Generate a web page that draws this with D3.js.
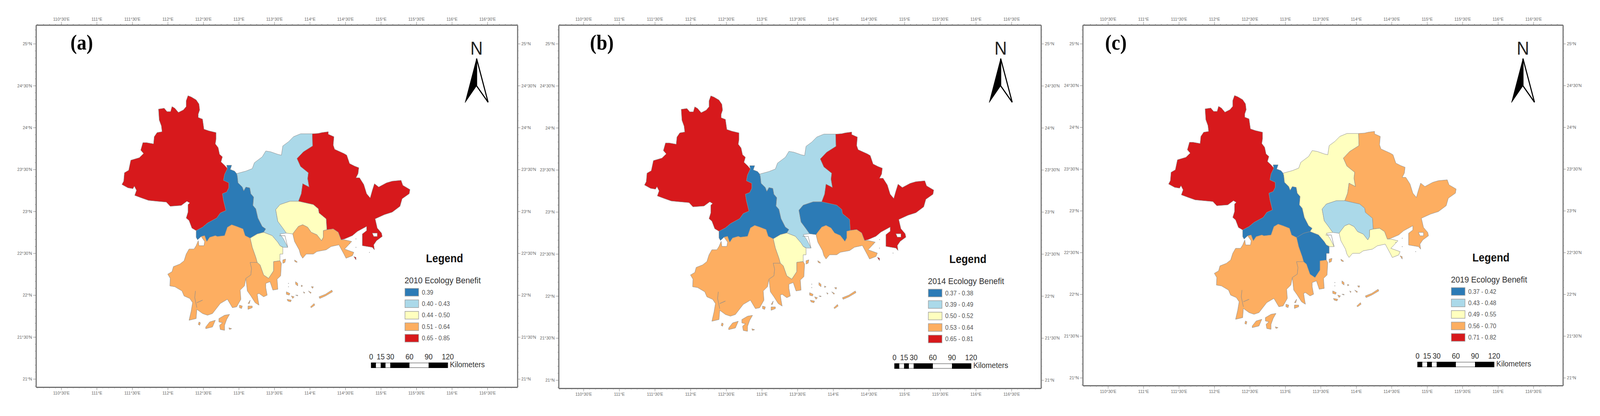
<!DOCTYPE html>
<html>

<head>
  <meta charset="utf-8">
  <title>Ecology Benefit</title>
  <style>
    html, body { margin: 0; width: 100%; height: 100%; background: #fff; overflow: hidden; }
    svg { display: block; width: 100vw; height: 100vh; }
    text { font-family: "Liberation Sans", Arial, sans-serif; }
    .tick line { stroke: #808080; }
    .domain { stroke: #6e6e6e; stroke-width: 3px; }
    .tick text { font-size: 11.6px; fill: #666; font-family: "Liberation Sans", Arial, sans-serif; }
    .city { stroke: #8c8c8c; stroke-width: 1px; fill-rule: evenodd; stroke-linejoin: round; }
  </style>
</head>

<body>
  <svg></svg>
  <script src="https://d3js.org/d3.v7.min.js"></script>
  <script>
    // graticule labels
    const lonTicks = [110.5, 111, 111.5, 112, 112.5, 113, 113.5, 114, 114.5, 115, 115.5, 116, 116.5];
    const latTicks = [25, 24.5, 24, 23.5, 23, 22.5, 22, 21.5, 21];

    // legend
    const classColors = ["#2c7bb6", "#abd9e9", "#ffffbf", "#fdae61", "#d7191c"];
    const labels2010 = ["0.39", "0.40 - 0.43", "0.44 - 0.50", "0.51 - 0.64", "0.65 - 0.85"];
    const labels2014 = ["0.37 - 0.38", "0.39 - 0.49", "0.50 - 0.52", "0.53 - 0.64", "0.65 - 0.81"];
    const labels2019 = ["0.37 - 0.42", "0.43 - 0.48", "0.49 - 0.55", "0.56 - 0.70", "0.71 - 0.82"];

    // class of each city per year
    const cityNames = ["Zhaoqing", "Foshan", "Guangzhou", "Huizhou", "Dongguan", "Shenzhen", "Zhongshan", "Jiangmen", "Zhuhai"];
    const class2010 = [4, 0, 1, 4, 2, 3, 2, 3, 3];
    const class2014 = [4, 0, 1, 4, 0, 3, 2, 3, 3];
    const class2019 = [4, 0, 2, 3, 1, 2, 0, 3, 3];

    // scale bar, km
    const scaleLabels = [0, 15, 30, 60, 90, 120];
    const scaleBreaks = [0, 7.5, 15, 22.5, 30, 60, 90, 120];

    // shared borders, [lon, lat]
    const zhaoFo = [[112.84, 23.51], [112.80, 23.44], [112.785, 23.37], [112.86, 23.34], [112.86, 23.28], [112.83, 23.23], [112.77, 23.21], [112.785, 23.13], [112.82, 23.01], [112.74, 22.98], [112.69, 22.92], [112.56, 22.86], [112.49, 22.81], [112.40, 22.77]];
    const foGuang = [[112.97, 23.45], [112.98, 23.42], [112.99, 23.34], [113.05, 23.29], [113.07, 23.245], [113.10, 23.29], [113.155, 23.28], [113.17, 23.21], [113.21, 23.17], [113.20, 23.07], [113.24, 23.03], [113.27, 22.92], [113.33, 22.82], [113.38, 22.79]];
    const foJiang = [[113.16, 22.68], [113.09, 22.71], [113.06, 22.79], [112.97, 22.82], [112.90, 22.84], [112.84, 22.81], [112.80, 22.71], [112.70, 22.70], [112.67, 22.71], [112.59, 22.69], [112.55, 22.64]];
    const guangHui = [[114.035, 23.925], [114.04, 23.78], [113.91, 23.71], [113.82, 23.63], [113.87, 23.535], [113.98, 23.46], [113.97, 23.39], [113.99, 23.29], [113.90, 23.33], [113.88, 23.21], [113.84, 23.12]];
    const guangDong = [[113.72, 23.12], [113.58, 23.08], [113.52, 23.02], [113.55, 22.88], [113.62, 22.80], [113.67, 22.74]];
    const guangZhong = [[113.35, 22.75], [113.47, 22.71], [113.55, 22.63], [113.58, 22.59]];
    const huiShen = [[114.40, 22.75], [114.33, 22.79], [114.24, 22.78]];
    const huiDong = [[114.23, 22.91], [114.13, 22.98], [114.12, 23.03], [114.05, 23.08]];
    const dongShen = [[113.76, 22.73], [113.785, 22.76], [113.84, 22.82], [113.90, 22.84], [113.97, 22.81], [114.02, 22.75], [114.10, 22.72], [114.165, 22.65], [114.19, 22.69], [114.19, 22.77]];
    const zhongZhu = [[113.58, 22.41], [113.49, 22.40], [113.49, 22.29], [113.42, 22.20], [113.35, 22.24], [113.30, 22.36], [113.26, 22.39]];
    const zhongJiang = [[113.26, 22.39], [113.24, 22.45], [113.19, 22.57], [113.16, 22.68]];
    const jiangZhu = [[113.20, 22.39], [113.16, 22.39], [113.18, 22.32], [113.17, 22.24], [113.10, 22.20]];

    const rev = a => a.slice().reverse();

    // city outlines
    const zhaoqing = [...zhaoFo, [112.34, 22.80], [112.30, 22.89], [112.26, 22.92], [112.285, 22.99], [112.285, 23.08], [112.31, 23.10], [112.27, 23.12], [112.19, 23.07], [112.035, 23.06], [111.98, 23.11], [111.85, 23.12], [111.73, 23.13], [111.63, 23.16], [111.535, 23.19], [111.56, 23.25], [111.53, 23.30], [111.51, 23.27], [111.44, 23.28], [111.355, 23.32], [111.38, 23.36], [111.39, 23.46], [111.45, 23.49], [111.48, 23.61], [111.60, 23.64], [111.66, 23.69], [111.62, 23.73], [111.65, 23.82], [111.70, 23.82], [111.80, 23.805], [111.81, 23.89], [111.85, 23.94], [111.92, 23.95], [111.91, 24.02], [111.88, 24.09], [111.87, 24.22], [111.95, 24.23], [111.99, 24.19], [112.04, 24.19], [112.06, 24.25], [112.10, 24.23], [112.15, 24.18], [112.22, 24.21], [112.26, 24.25], [112.26, 24.32], [112.285, 24.38], [112.33, 24.365], [112.40, 24.33], [112.44, 24.28], [112.45, 24.21], [112.43, 24.16], [112.43, 24.12], [112.49, 24.10], [112.51, 23.98], [112.58, 23.96], [112.68, 23.94], [112.68, 23.86], [112.67, 23.805], [112.71, 23.76], [112.73, 23.68], [112.77, 23.65], [112.75, 23.59], [112.80, 23.55]];
    const foshan = [[112.83, 23.55], [112.90, 23.55], [112.88, 23.50], [112.94, 23.48], ...foGuang, [113.35, 22.75], [113.26, 22.73], ...foJiang, [112.52, 22.71], [112.47, 22.70], [112.42, 22.66], [112.40, 22.69], ...rev(zhaoFo)];
    const guangzhou = [[113.10, 23.48], [113.19, 23.51], [113.22, 23.58], [113.33, 23.65], [113.38, 23.72], [113.45, 23.71], [113.55, 23.68], [113.60, 23.67], [113.62, 23.78], [113.70, 23.83], [113.77, 23.89], [113.87, 23.925], ...guangHui, ...guangDong, [113.58, 22.73], [113.63, 22.67], [113.69, 22.57], [113.63, 22.57], ...rev(guangZhong), ...rev(foGuang)];
    const huizhou = [[114.12, 23.93], [114.17, 23.94], [114.26, 23.95], [114.26, 23.92], [114.34, 23.89], [114.33, 23.79], [114.35, 23.74], [114.48, 23.69], [114.52, 23.67], [114.56, 23.57], [114.63, 23.54], [114.69, 23.52], [114.68, 23.45], [114.65, 23.40], [114.70, 23.40], [114.76, 23.32], [114.80, 23.21], [114.85, 23.16], [114.88, 23.25], [114.91, 23.33], [114.97, 23.29], [115.08, 23.34], [115.16, 23.36], [115.285, 23.37], [115.31, 23.31], [115.41, 23.26], [115.40, 23.21], [115.30, 23.15], [115.27, 23.06], [115.16, 22.99], [115.05, 22.96], [114.92, 22.91], [114.95, 22.80], [115.01, 22.74], [115.02, 22.70], [114.94, 22.65], [114.90, 22.60], [114.91, 22.54], [114.88, 22.57], [114.74, 22.59], [114.74, 22.73], [114.80, 22.77], [114.80, 22.82], [114.67, 22.76], [114.60, 22.71], [114.49, 22.67], [114.44, 22.66], ...huiShen, ...huiDong, ...rev(guangHui)];
    const huizhouHole = [[114.88, 22.74], [114.95, 22.74], [114.95, 22.70], [114.90, 22.70]];
    const huizhouIsle = [[114.62, 22.46], [114.65, 22.45], [114.65, 22.42]];
    const dongguan = [[113.84, 23.12], ...rev(huiDong), [114.24, 22.78], ...rev(dongShen), ...rev(guangDong)];
    const shenzhen = [...dongShen, ...rev(huiShen), [114.44, 22.66], [114.49, 22.66], [114.59, 22.64], [114.535, 22.59], [114.49, 22.55], [114.62, 22.51], [114.60, 22.47], [114.51, 22.44], [114.48, 22.49], [114.41, 22.60], [114.30, 22.58], [114.23, 22.54], [114.10, 22.52], [114.05, 22.49], [113.95, 22.49], [113.90, 22.44], [113.87, 22.48], [113.85, 22.54], [113.785, 22.64]];
    const zhongshan = [...guangZhong, [113.62, 22.57], [113.62, 22.49], [113.58, 22.49], ...zhongZhu, ...zhongJiang, [113.26, 22.73]];
    const jiangmen = [...rev(zhongJiang), ...jiangZhu, [113.08, 22.11], [113.02, 22.06], [113.03, 21.95], [112.97, 21.86], [112.91, 21.85], [112.84, 21.95], [112.74, 21.90], [112.63, 21.78], [112.56, 21.76], [112.49, 21.78], [112.41, 21.83], [112.40, 21.72], [112.30, 21.70], [112.33, 21.81], [112.35, 21.91], [112.31, 21.96], [112.23, 21.99], [112.20, 22.05], [112.10, 22.10], [112.03, 22.11], [112.035, 22.20], [112.00, 22.25], [112.06, 22.28], [112.08, 22.34], [112.17, 22.37], [112.23, 22.41], [112.26, 22.49], [112.30, 22.55], [112.37, 22.55], [112.40, 22.59], [112.43, 22.65], [112.44, 22.59], [112.51, 22.59], [112.52, 22.64], [112.47, 22.70], [112.52, 22.71], ...rev(foJiang)];
    const zhuhai = [...rev(zhongZhu), [113.60, 22.38], [113.59, 22.23], [113.54, 22.19], [113.55, 22.07], [113.48, 22.06], [113.44, 22.16], [113.38, 22.14], [113.38, 22.09], [113.40, 22.00], [113.35, 21.98], [113.285, 22.02], [113.26, 22.01], [113.27, 21.95], [113.285, 21.88], [113.23, 21.91], [113.17, 21.99], [113.12, 22.05], ...rev(jiangZhu)];

    // islands, always in the south-west class
    const islands = [
      [[113.62, 22.42], [113.66, 22.43], [113.65, 22.39], [113.62, 22.38]],
      [[113.785, 22.42], [113.82, 22.40], [113.82, 22.39], [113.79, 22.40]],
      [[114.13, 21.98], [114.22, 22.01], [114.31, 22.06], [114.32, 22.04], [114.22, 21.99], [114.14, 21.96]],
      [[114.01, 21.86], [114.06, 21.90], [114.07, 21.88], [114.02, 21.85]],
      [[113.80, 22.16], [113.83, 22.14], [113.83, 22.11], [113.80, 22.13]],
      [[113.67, 22.04], [113.72, 22.02], [113.71, 22.00], [113.67, 22.01]],
      [[113.74, 21.99], [113.78, 21.98], [113.76, 21.96]],
      [[113.68, 21.95], [113.74, 21.94], [113.73, 21.92], [113.69, 21.93]],
      [[113.98, 22.05], [114.02, 22.03], [114.01, 22.02]],
      [[114.02, 22.10], [114.05, 22.10], [114.04, 22.08]],
      [[113.88, 22.12], [113.90, 22.11], [113.88, 22.10]],
      [[113.91, 22.04], [113.93, 22.03], [113.92, 22.02]],
      [[113.80, 22.00], [113.83, 22.00], [113.83, 21.99]],
      [[112.72, 21.72], [112.80, 21.76], [112.87, 21.77], [112.83, 21.71], [112.80, 21.64], [112.80, 21.58], [112.74, 21.59], [112.73, 21.64], [112.77, 21.67], [112.72, 21.68]],
      [[112.59, 21.68], [112.67, 21.70], [112.63, 21.62], [112.535, 21.60], [112.535, 21.62]],
      [[112.44, 21.68], [112.46, 21.67], [112.45, 21.64], [112.43, 21.65]],
      [[112.86, 21.61], [112.90, 21.60], [112.87, 21.59]],
      [[113.01, 21.88], [113.05, 21.87], [113.04, 21.84], [113.01, 21.85]],
      [[113.13, 21.87], [113.19, 21.87], [113.19, 21.85], [113.13, 21.83]],
      [[113.13, 21.90], [113.16, 21.94], [113.15, 21.90]]
    ];
    const islets = [[113.70, 22.14], [113.70, 22.10], [114.84, 22.51], [114.56, 22.62], [114.65, 22.67], [114.65, 22.57]];
    const rivers = [
      [[112.39, 22.05], [112.38, 21.97], [112.41, 21.85]],
      [[112.41, 21.91], [112.49, 21.94]],
      [[113.57, 22.71], [113.65, 22.71], [113.69, 22.57]]
    ];

    const cityRings = [
      [zhaoqing], [foshan], [guangzhou], [huizhou, huizhouHole, huizhouIsle], [dongguan],
      [shenzhen], [zhongshan], [jiangmen, ...islands], [zhuhai]
    ];

    const panels = [
      { tag: "(a)", year: 2010, classes: class2010, labels: labels2010, left: 100, right: 1437.5, top: 64, bottom: 992, lonPx: [170, 1354], latPx: [112, 971], legendDx: 0, legendDy: 0, northX: 1324, tagX: 227 },
      { tag: "(b)", year: 2014, classes: class2014, labels: labels2014, left: 1552, right: 2892, top: 64, bottom: 995, lonPx: [1621, 2810], latPx: [112, 974], legendDx: 1454, legendDy: 2, northX: 2780, tagX: 1672 },
      { tag: "(c)", year: 2019, classes: class2019, labels: labels2019, left: 3008, right: 4342, top: 64, bottom: 988, lonPx: [3078, 4260], latPx: [112, 968], legendDx: 2907, legendDy: -2, northX: 4231, tagX: 3100 }
    ];

    const width = 4445;
    const height = 1066;
    const color = d3.scaleOrdinal(d3.range(5), classColors);

    const svg = d3.select("svg")
      .attr("viewBox", [0, 0, width, height])
      .attr("preserveAspectRatio", "none");

    const lonLabel = d => Math.floor(d) + "°" + (d % 1 ? "30'" : "") + "E";
    const latLabel = d => Math.floor(d) + "°" + (d % 1 ? "30'" : "") + "N";

    function drawAxis(g, axisFn, scale, major, minor, fmt, transform) {
      const a = g.append("g").attr("transform", transform);
      const inDomain = v => v >= d3.min(scale.domain()) && v <= d3.max(scale.domain());
      a.call(axisFn(scale).tickValues(minor.filter(inDomain)).tickSize(3).tickSizeOuter(0).tickFormat(""));
      const b = g.append("g").attr("transform", transform);
      b.call(axisFn(scale).tickValues(major).tickSize(8).tickSizeOuter(0).tickPadding(3).tickFormat(fmt));
      b.select(".domain").remove();
    }

    panels.forEach(p => {
      const g = svg.append("g");
      const x = d3.scaleLinear([110.5, 116.5], p.lonPx);
      const y = d3.scaleLinear([25, 21], p.latPx);

      const line = d3.line().x(d => x(d[0])).y(d => y(d[1]));
      const ringsPath = rings => rings.map(r => line(r) + "Z").join("");

      g.append("g")
        .selectAll("path")
        .data(cityRings)
        .join("path")
        .attr("class", "city")
        .attr("data-city", (d, i) => cityNames[i])
        .attr("d", ringsPath)
        .attr("fill", (d, i) => color(p.classes[i]));

      g.append("g")
        .selectAll("path")
        .data(rivers)
        .join("path")
        .attr("d", line)
        .attr("fill", "none")
        .attr("stroke", "#8c8c8c")
        .attr("stroke-width", 1.2);

      g.append("g")
        .selectAll("circle")
        .data(islets)
        .join("circle")
        .attr("cx", d => x(d[0]))
        .attr("cy", d => y(d[1]))
        .attr("r", 1)
        .attr("fill", "#888");

      // frame and graticule ticks
      const xFrame = d3.scaleLinear([x.invert(p.left), x.invert(p.right)], [p.left, p.right]);
      const yFrame = d3.scaleLinear([y.invert(p.top), y.invert(p.bottom)], [p.top, p.bottom]);
      const lonMinor = d3.range(110, 117, 1 / 12);
      const latMinor = d3.range(20.5, 25.5, 1 / 12);
      drawAxis(g, d3.axisTop, xFrame, lonTicks, lonMinor, lonLabel, `translate(0,${p.top})`);
      drawAxis(g, d3.axisBottom, xFrame, lonTicks, lonMinor, lonLabel, `translate(0,${p.bottom})`);
      drawAxis(g, d3.axisLeft, yFrame, latTicks, latMinor, latLabel, `translate(${p.left},0)`);
      drawAxis(g, d3.axisRight, yFrame, latTicks, latMinor, latLabel, `translate(${p.right},0)`);

      g.append("text")
        .attr("x", p.tagX)
        .attr("y", 127)
        .attr("text-anchor", "middle")
        .style("font-family", "'Liberation Serif', serif")
        .style("font-weight", "bold")
        .style("font-size", "54px")
        .text(p.tag);

      // north arrow
      const north = g.append("g").attr("transform", `translate(${p.northX},0)`);
      north.append("text")
        .attr("y", 140)
        .attr("text-anchor", "middle")
        .style("font-size", "48px")
        .attr("fill", "#222")
        .text("N");
      north.append("path").attr("d", "M0,150L-32,263L0,220Z").attr("fill", "#000").attr("stroke", "#000");
      north.append("path").attr("d", "M0,150L32,262L0,220Z").attr("fill", "#fff").attr("stroke", "#000").attr("stroke-width", 3);

      // legend
      const lg = g.append("g").attr("transform", `translate(${p.legendDx},${p.legendDy})`);
      lg.append("text")
        .attr("x", 1235)
        .attr("y", 672)
        .attr("text-anchor", "middle")
        .style("font-weight", "bold")
        .style("font-size", "29px")
        .attr("fill", "#111")
        .text("Legend");
      lg.append("text")
        .attr("x", 1124)
        .attr("y", 726)
        .style("font-size", "22.4px")
        .attr("fill", "#333")
        .text(p.year + " Ecology Benefit");

      const rows = d3.scaleBand(d3.range(5), [739, 876.5]).paddingInner(0.33).paddingOuter(0);
      lg.append("g")
        .selectAll("rect")
        .data(p.labels)
        .join("rect")
        .attr("x", 1125)
        .attr("y", (d, i) => rows(i))
        .attr("width", 38)
        .attr("height", rows.bandwidth())
        .attr("fill", (d, i) => color(i))
        .attr("stroke", "#a0a0a0")
        .attr("stroke-width", 1.5);
      lg.append("g")
        .selectAll("text")
        .data(p.labels)
        .join("text")
        .attr("x", 1172)
        .attr("y", (d, i) => rows(i) + rows.bandwidth() / 2)
        .attr("dy", "0.35em")
        .style("font-size", "16.3px")
        .attr("fill", "#555")
        .text(d => d);

      // scale bar
      const km = d3.scaleLinear([0, 120], [1031, 1244]);
      lg.append("rect")
        .attr("x", km(0))
        .attr("y", 930)
        .attr("width", km(120) - km(0))
        .attr("height", 12)
        .attr("fill", "#fff")
        .attr("stroke", "#999")
        .attr("stroke-width", 2);
      lg.append("g")
        .selectAll("rect")
        .data(d3.pairs(scaleBreaks).filter((d, i) => i % 2 === 0))
        .join("rect")
        .attr("x", d => km(d[0]))
        .attr("y", 929)
        .attr("width", d => km(d[1]) - km(d[0]))
        .attr("height", 14)
        .attr("fill", "#000");
      lg.append("g")
        .selectAll("text")
        .data(scaleLabels)
        .join("text")
        .attr("x", d => km(d))
        .attr("y", 921)
        .attr("text-anchor", "middle")
        .style("font-size", "20px")
        .attr("fill", "#333")
        .text(d => d);
      lg.append("text")
        .attr("x", 1250)
        .attr("y", 941)
        .style("font-size", "20.5px")
        .attr("fill", "#333")
        .text("Kilometers");
    });
  </script>
</body>

</html>
